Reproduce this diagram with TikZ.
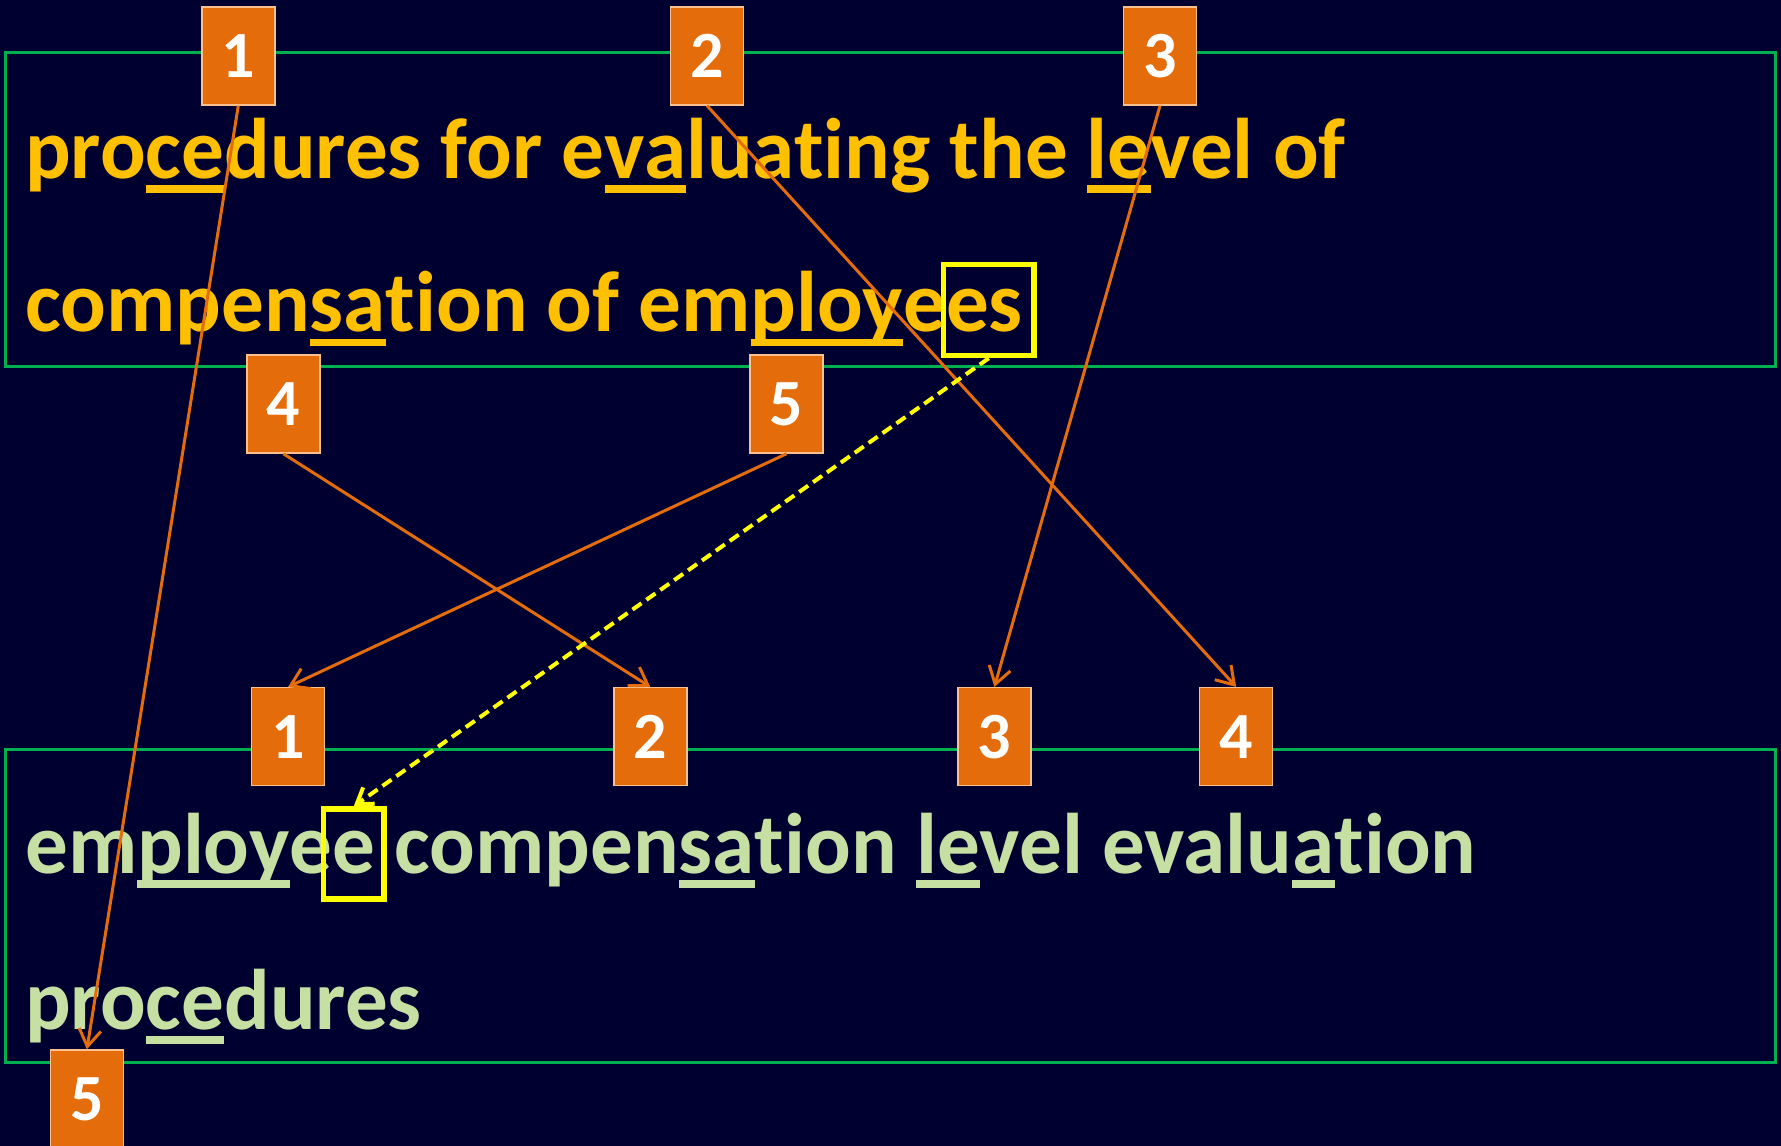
\documentclass[tikz,border=0pt]{standalone}
\usepackage{fontspec}
\setmainfont{Carlito}[Ligatures={NoCommon}]
\newfontfamily\textfam{Carlito}[Ligatures={NoCommon},FakeStretch=0.99]
\usetikzlibrary{arrows.meta}
\definecolor{bg}{HTML}{000030}
\definecolor{boxorange}{HTML}{E46C0A}
\definecolor{peach}{HTML}{FAC090}
\definecolor{frame}{HTML}{00B050}
\definecolor{gold}{HTML}{FFC000}
\definecolor{palegreen}{HTML}{C6E0A4}
\definecolor{lineorange}{HTML}{E46C0A}
\definecolor{hiyellow}{HTML}{FFFF00}
\newcommand\ulx[1]{\leavevmode\setbox0=\hbox{#1}\rlap{\rule[-0.17em]{\wd0}{0.088em}}\box0}
\tikzset{
  numbox/.style={rectangle, fill=boxorange, draw=peach, line width=1.5pt,
    minimum width=73pt, minimum height=98pt, inner sep=0pt, text=white,
    font=\fontsize{66}{66}\selectfont\bfseries},
  srctext/.style={anchor=base west, inner sep=0pt, text=gold,
    font=\textfam\fontsize{86}{86}\selectfont\bfseries},
  dsttext/.style={anchor=base west, inner sep=0pt, text=palegreen,
    font=\textfam\fontsize{86}{86}\selectfont\bfseries},
  hibox/.style={rectangle, draw=hiyellow, line width=5.5pt, inner sep=0pt},
  gframe/.style={draw=frame, line width=3pt},
  oline/.style={draw=lineorange, line width=3pt,
    -{Straight Barb[length=17pt,width=22pt,line width=3pt]}},
  yline/.style={draw=hiyellow, line width=4pt, dash pattern=on 11pt off 6pt,
    -{Straight Barb[length=15pt,width=20pt,line width=4pt]}}
}
\begin{document}
\begin{tikzpicture}[x=1pt,y=-1pt]
\fill[bg] (0,0) rectangle (1781,1146);
\useasboundingbox (0,0) rectangle (1781,1146);
% frames
\draw[gframe] (5,52.5) rectangle (1775,366.5);
\draw[gframe] (5,749) rectangle (1775,1062.5);
% texts
\node[srctext] (s1) at (25,178.3) {pro\ulx{ce}dures for e\ulx{va}luating the \ulx{le}vel of};
\node[srctext] (s2) at (25,331.7) {compen\ulx{sa}tion of em\ulx{ploy}ees};
\node[dsttext] (d1) at (25,873) {em\ulx{ploy}ee compen\ulx{sa}tion \ulx{le}vel evalu\ulx{a}tion};
\node[dsttext] (d2) at (25,1029) {pro\ulx{ce}dures};
% highlight boxes
\node[hibox, minimum width=90.5pt, minimum height=91pt] (es) at (988.75,310) {};
\node[hibox, minimum width=60.5pt, minimum height=90pt] (ee) at (353.75,854) {};
% number boxes
\node[numbox] (t1) at (238.3,55.9) {1};
\node[numbox] (t2) at (707,55.9) {2};
\node[numbox] (t3) at (1160,55.9) {3};
\node[numbox] (m4) at (283.4,404) {4};
\node[numbox] (m5) at (786.5,404) {5};
\node[numbox] (b1) at (288,736.7) {1};
\node[numbox] (b2) at (650.3,736.7) {2};
\node[numbox] (b3) at (994.4,736.7) {3};
\node[numbox] (b4) at (1236.2,736.7) {4};
\node[numbox] (b5) at (86.9,1099) {5};
% connectors
\draw[oline] (t1.south) -- (b5.north);
\draw[oline] (t2.south) -- (b4.north);
\draw[oline] (t3.south) -- (b3.north);
\draw[oline] (m4.south) -- (b2.north);
\draw[oline] (m5.south) -- (b1.north);
\draw[yline] (es.south) -- (ee.north);
\end{tikzpicture}
\end{document}
